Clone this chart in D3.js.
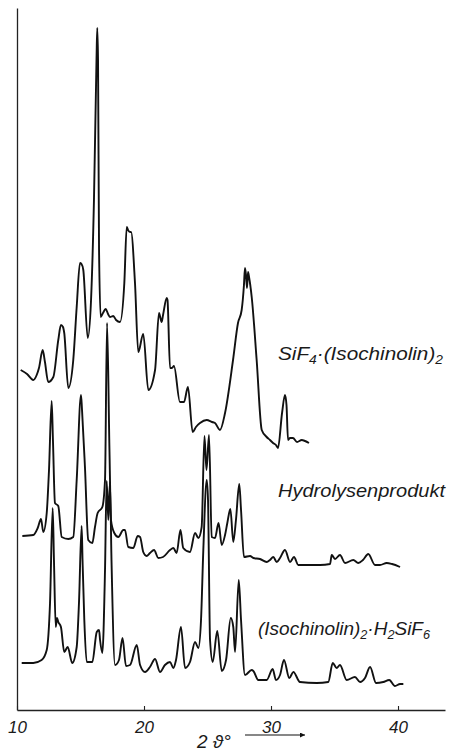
<!DOCTYPE html>
<html><head><meta charset="utf-8">
<script src="https://cdn.jsdelivr.net/npm/d3@7"></script>
<style>
html,body{margin:0;padding:0;background:#fff;}
svg{display:block;}
text{font-family:"Liberation Sans","DejaVu Sans",sans-serif;font-style:italic;fill:#1a1a1a;}
</style></head>
<body><svg id="chart" width="449" height="755"></svg>
<script>
// 2θ (degrees) and intensity (arbitrary units, traces stacked as drawn)
const sif4Theta = [10.29,10.79,11.28,11.55,11.73,12.02,12.20,12.46,12.86,13.25,13.46,13.62,13.72,14.04,14.43,14.70,14.96,15.08,15.22,15.57,15.83,16.06,16.26,16.32,16.38,16.46,16.59,16.77,16.98,17.17,17.32,17.58,17.80,18.11,18.45,18.64,18.74,18.90,18.98,19.29,19.55,19.94,20.34,20.87,21.18,21.39,21.50,21.79,21.85,22.05,22.20,22.36,22.83,23.15,23.46,23.83,24.09,24.41,24.94,25.35,25.59,25.98,26.38,27.01,27.40,27.69,27.87,27.95,28.03,28.11,28.19,28.27,28.48,28.87,29.27,29.66,29.92,30.16,30.39,30.55,30.87,31.10,31.22,31.34,31.50,31.73,32.05,32.42,32.68,32.99];
const sif4Int   = [340,336,330,335,342,360,348,328,333,370,385,383,377,322,350,403,447,446,440,372,410,510,650,682,650,460,393,397,401,396,393,394,390,388,427,483,480,478,478,427,358,376,320,340,397,388,395,412,410,342,342,344,308,308,323,278,283,287,290,288,287,280,297,350,387,400,425,442,435,422,438,433,413,350,280,273,270,267,265,262,297,315,305,270,272,272,268,270,269,267];

const hydroTheta = [10.42,11.28,11.63,11.89,12.07,12.34,12.52,12.73,12.83,12.99,13.25,13.52,14.04,14.43,14.70,15.04,15.12,15.35,15.61,15.93,16.14,16.35,16.72,16.93,17.09,17.28,17.40,17.66,17.98,18.37,18.50,18.76,19.16,19.50,19.69,19.94,20.20,20.47,20.79,21.13,21.50,22.05,22.31,22.57,22.87,23.09,23.62,24.02,24.28,24.54,24.76,24.92,25.12,25.33,25.59,25.87,26.12,26.38,26.56,26.80,27.03,27.24,27.50,27.64,27.87,28.35,28.61,29.13,29.66,29.92,30.18,30.45,30.71,31.10,31.50,31.81,32.15,33.07,33.86,34.65,34.78,35.04,35.43,35.83,36.48,36.87,37.24,37.66,38.19,38.58,39.11,39.53,40.16];
const hydroInt   = [174,175,182,191,178,197,240,309,270,207,204,173,171,173,230,315,300,243,170,167,183,197,203,230,387,260,190,177,173,180,180,163,162,174,173,158,154,157,160,152,153,160,162,157,180,162,158,177,172,183,274,240,275,173,172,187,165,175,187,201,168,190,226,200,153,154,152,151,148,150,153,148,152,160,148,153,145,145,145,146,155,151,155,147,150,147,150,156,145,145,147,146,143];

const h2sif6Theta = [10.37,11.28,11.94,12.34,12.60,12.81,12.91,13.05,13.15,13.25,13.46,13.72,13.99,14.35,14.70,14.88,15.09,15.16,15.30,15.49,15.93,16.28,16.46,16.54,16.72,16.93,17.06,17.19,17.32,17.44,17.72,18.03,18.31,18.58,18.90,19.43,19.69,20.08,20.47,20.87,21.26,21.65,22.05,22.31,22.52,22.91,23.23,23.62,24.02,24.28,24.49,24.67,24.94,25.04,25.20,25.41,25.77,26.12,26.46,26.83,27.03,27.17,27.46,27.64,27.95,28.48,28.61,29.00,29.66,30.13,30.39,30.71,31.02,31.44,31.76,32.28,33.60,34.51,34.86,35.17,35.43,35.96,36.61,37.01,37.40,37.80,38.27,38.84,39.31,39.76,40.16,40.42];
const h2sif6Int   = [47,47,50,60,107,202,150,83,92,88,83,58,63,47,63,107,184,150,90,48,48,78,80,70,57,140,229,190,228,150,45,50,72,44,45,65,45,38,43,51,38,45,48,42,50,83,42,48,68,62,90,160,230,210,70,48,79,39,50,92,83,58,130,90,35,40,39,30,30,41,30,35,50,32,38,28,27,28,47,42,45,30,33,28,32,43,27,28,30,24,26,26];

const xTicks = [10,20,30,40];
const xDomain = [10,43.7];
const yDomain = [0,702];

const svg = d3.select("#chart");
const x = d3.scaleLinear().domain(xDomain).range([17,445]);
const y = d3.scaleLinear().domain(yDomain).range([710,8]);

// axes
const xAxis = d3.axisBottom(x).tickValues(xTicks).tickFormat(d3.format("d"))
  .tickSizeInner(-4).tickSizeOuter(0).tickPadding(11);
const gx = svg.append("g").attr("transform","translate(0,710)").call(xAxis);
gx.select(".domain").attr("stroke","#222").attr("stroke-width",1.3);
gx.selectAll(".tick line").attr("stroke","#222").attr("stroke-width",1.1);
gx.selectAll(".tick text").style("font-size","17px").style("font-family",'"Liberation Sans",sans-serif')
  .style("font-style","italic").attr("fill","#1a1a1a");

const yAxis = d3.axisLeft(y).tickValues([]).tickSizeOuter(0);
const gy = svg.append("g").attr("transform","translate(17,0)").call(yAxis);
gy.select(".domain").attr("stroke","#222").attr("stroke-width",1.3);

// traces
const series = [
  {theta:sif4Theta, val:sif4Int},
  {theta:hydroTheta, val:hydroInt},
  {theta:h2sif6Theta, val:h2sif6Int}
];
const line = d3.line().x(d=>x(d[0])).y(d=>y(d[1])).curve(d3.curveMonotoneX);
series.forEach(s=>{
  const pts = s.theta.map((t,i)=>[t,s.val[i]]);
  svg.append("path").datum(pts).attr("d",line)
    .attr("fill","none").attr("stroke","#111").attr("stroke-width",1.9)
    .attr("stroke-linejoin","round");
});

// labels
function label(parts, xPos, yPos, width){
  const t = svg.append("text").attr("x",xPos).attr("y",yPos).style("font-size","18px");
  parts.forEach(p=>{
    const ts = t.append("tspan").text(p[0]);
    if(p[1]==="sub") ts.attr("dy",4).style("font-size","12px");
    else if(p[1]==="up") ts.attr("dy",-4);
  });
  t.attr("textLength",width).attr("lengthAdjust","spacingAndGlyphs");
  return t;
}
label([["SiF"],["4","sub"],["·(Isochinolin)","up"],["2","sub"]], 278, 360, 165);
label([["Hydrolysenprodukt"]], 278, 497, 167);
label([["(Isochinolin)"],["2","sub"],["·H","up"],["2","sub"],["SiF","up"],["6","sub"]], 258, 635, 172);

// axis title
svg.append("text").attr("x",197).attr("y",748).style("font-size","19px").text("2 ϑ°");
svg.append("defs").append("marker").attr("id","arr").attr("viewBox","0 0 10 10")
  .attr("refX",10).attr("refY",5).attr("markerWidth",10).attr("markerHeight",5)
  .attr("markerUnits","userSpaceOnUse").attr("orient","auto")
  .append("path").attr("d","M0,0L10,5L0,10Z").attr("fill","#111");
svg.append("line").attr("x1",245).attr("x2",305).attr("y1",735).attr("y2",735)
  .attr("stroke","#111").attr("stroke-width",1.2).attr("marker-end","url(#arr)");
</script></body></html>
